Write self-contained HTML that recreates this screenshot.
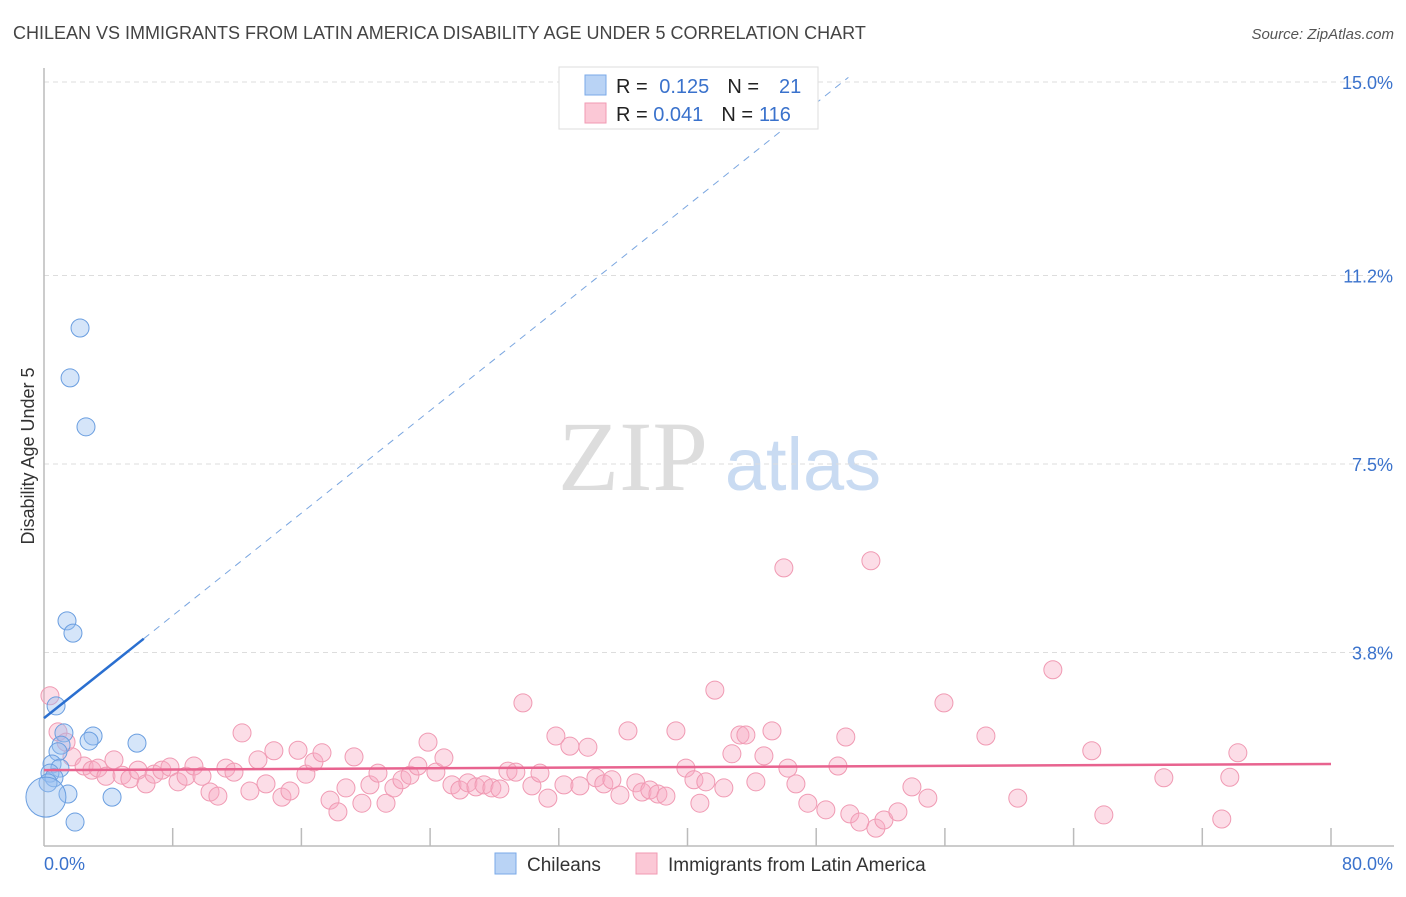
<!DOCTYPE html>
<html><head><meta charset="utf-8"><style>
body{margin:0;background:#fff;width:1406px;height:892px;overflow:hidden;font-family:"Liberation Sans",sans-serif}
</style></head><body>
<svg id="chart" width="1406" height="892" xmlns="http://www.w3.org/2000/svg" font-family="Liberation Sans, sans-serif">
<text x="13" y="39" font-size="18" fill="#444">CHILEAN VS IMMIGRANTS FROM LATIN AMERICA DISABILITY AGE UNDER 5 CORRELATION CHART</text>
<text x="1394" y="39" font-size="15" fill="#555" text-anchor="end" font-style="italic">Source: ZipAtlas.com</text>
<g>
<text x="633" y="490" font-size="100" fill="#ddd" font-family="Liberation Serif, serif" text-anchor="middle">ZIP</text>
<text x="803" y="490" font-size="74" fill="#c9dbf2" text-anchor="middle">atlas</text>
</g>
<g id="grid"></g>
<g id="axes"></g>
<g id="pts"></g>
<g id="lines"></g>
<text transform="translate(34,456) rotate(-90)" font-size="18" fill="#333" text-anchor="middle">Disability Age Under 5</text>
<g>
<rect x="559" y="67" width="259" height="62" fill="#fff" stroke="#ddd"/>
<rect x="585" y="75" width="21" height="20" fill="#b9d3f5" stroke="#7aaae8"/>
<rect x="585" y="103" width="21" height="20" fill="#fbc8d6" stroke="#f09ab3"/>
<text x="616" y="93" font-size="20" fill="#222">R = <tspan fill="#3a72cc" dx="6">0.125</tspan><tspan dx="18" fill="#222">N =</tspan><tspan dx="20" fill="#3a72cc">21</tspan></text>
<text x="616" y="121" font-size="20" fill="#222">R = <tspan fill="#3a72cc">0.041</tspan><tspan dx="18" fill="#222">N =</tspan><tspan dx="6" fill="#3a72cc">116</tspan></text>
</g>
<g>
<rect x="495" y="853" width="21" height="21" fill="#b9d3f5" stroke="#7aaae8"/>
<text x="527" y="871" font-size="19" fill="#333">Chileans</text>
<rect x="636" y="853" width="21" height="21" fill="#fbc8d6" stroke="#f09ab3"/>
<text x="668" y="871" font-size="19" fill="#333">Immigrants from Latin America</text>
</g>
</svg>
<script>
const yTicks=[15.0,11.2,7.5,3.8];
const yTickLabels=["15.0%","11.2%","7.5%","3.8%"];
const xTickLabels=["0.0%","80.0%"];
const blueX=[2.24,1.62,2.61,1.43,1.80,0.75,1.24,3.05,2.80,5.78,1.06,0.87,0.50,0.99,0.37,0.62,0.25,1.49,4.23,0.12,1.93];
const blueY=[10.17,9.19,8.23,4.42,4.18,2.75,2.22,2.16,2.06,2.02,1.98,1.85,1.61,1.53,1.43,1.34,1.24,1.02,0.96,0.96,0.47];
const blueR=[9,9,9,9,9,9,9,9,9,9,9,9,9,9,9,9,9,9,9,20,9];
const pinkX=[0.37,0.87,1.37,1.74,2.49,2.98,3.36,3.85,4.35,4.85,5.34,5.84,6.34,6.84,7.33,7.83,8.33,8.83,9.32,9.82,10.32,10.81,11.31,11.81,12.31,12.80,13.30,13.80,14.29,14.79,15.29,15.79,16.28,16.78,17.28,17.78,18.27,18.77,19.27,19.76,20.26,20.76,21.26,21.75,22.25,22.75,23.24,23.87,24.36,24.86,25.36,25.85,26.35,26.85,27.35,27.84,28.34,28.84,29.33,29.77,30.33,30.83,31.32,31.82,32.32,32.69,33.31,33.81,34.31,34.80,35.30,35.80,36.30,36.79,37.17,37.66,38.16,38.66,39.28,39.90,40.40,40.77,41.14,41.70,42.26,42.76,43.26,43.63,44.25,44.75,45.25,45.99,46.24,46.74,47.48,48.60,49.35,49.84,50.09,50.71,51.40,51.71,52.21,53.08,53.95,54.94,55.94,58.55,60.53,62.71,65.13,65.88,69.61,73.21,73.71,74.21];
const pinkY=[2.95,2.24,2.04,1.75,1.57,1.49,1.53,1.37,1.69,1.39,1.32,1.49,1.22,1.41,1.49,1.55,1.26,1.37,1.57,1.37,1.06,0.98,1.53,1.45,2.22,1.08,1.69,1.22,1.87,0.96,1.08,1.88,1.41,1.65,1.83,0.90,0.67,1.14,1.75,0.84,1.20,1.43,0.84,1.14,1.30,1.39,1.57,2.04,1.45,1.73,1.20,1.10,1.24,1.16,1.20,1.14,1.12,1.47,1.45,2.81,1.18,1.43,0.94,2.16,1.20,1.96,1.18,1.94,1.34,1.22,1.30,1.00,2.26,1.24,1.06,1.10,1.02,0.98,2.26,1.53,1.30,0.84,1.26,3.06,1.14,1.81,2.18,2.18,1.26,1.77,2.26,5.46,1.53,1.22,0.84,0.71,1.57,2.14,0.63,0.47,5.60,0.35,0.51,0.67,1.16,0.94,2.81,2.16,0.94,3.46,1.87,0.61,1.34,0.53,1.35,1.83];
const blueTrend=[2.51,4.07];   // y at x=0 and x=6.2
const pinkTrend=[1.49,1.61];   // y at x=0 and x=80
const X0=44,X1=1331,Y0=846,Y1=82;
const xs=v=>X0+v*(X1-X0)/80, ys=v=>Y0-v*(Y0-Y1)/15;
const NS='http://www.w3.org/2000/svg';
function mk(t,a,p){const e=document.createElementNS(NS,t);for(const k in a)e.setAttribute(k,a[k]);p.appendChild(e);return e;}
const grid=document.getElementById('grid'),axes=document.getElementById('axes'),pts=document.getElementById('pts'),lines=document.getElementById('lines');
yTicks.forEach((t,i)=>{
 const l=mk('line',{x1:X0,x2:1394,y1:ys(t),y2:ys(t),stroke:'#ddd','stroke-dasharray':'5,4'},grid);
 
 
 const tx=mk('text',{x:1393,y:ys(t)+7,'font-size':18,fill:'#3a72cc','text-anchor':'end'},axes);
 tx.textContent=yTickLabels[i];
 
 
});
const ya=mk('line',{x1:X0,x2:X0,y1:68,y2:Y0,stroke:'#bbb','stroke-width':1.5},axes);


const xa=mk('line',{x1:X0,x2:1394,y1:Y0,y2:Y0,stroke:'#bbb','stroke-width':1.5},axes);


for(let k=1;k<=10;k++){const v=k*8;const tk=mk('line',{x1:xs(v),x2:xs(v),y1:828,y2:Y0,stroke:'#bbb','stroke-width':1.5},axes);
 
 }
[[0,'start',44],[80,'end',1393]].forEach((d,i)=>{const t=mk('text',{x:d[2],y:870,'font-size':18,fill:'#3a72cc','text-anchor':d[1]},axes);t.textContent=xTickLabels[i];
 
 });
pinkX.forEach((x,i)=>{const c=mk('circle',{cx:xs(x),cy:ys(pinkY[i]),r:9,fill:'rgba(248,170,195,0.4)',stroke:'#f09ab3','stroke-width':1},pts);
 
 });
blueX.forEach((x,i)=>{const c=mk('circle',{cx:xs(x),cy:ys(blueY[i]),r:blueR[i],fill:'rgba(150,190,240,0.4)',stroke:'#6a9ee0','stroke-width':1},pts);
 
 });
const slope=(blueTrend[1]-blueTrend[0])/6.2;
const bd=mk('line',{x1:xs(6.2),y1:ys(blueTrend[1]),x2:xs(50),y2:ys(blueTrend[0]+slope*50),stroke:'#7aa6e0','stroke-width':1,'stroke-dasharray':'7,6'},lines);


const bl=mk('line',{x1:xs(0),y1:ys(blueTrend[0]),x2:xs(6.2),y2:ys(blueTrend[1]),stroke:'#2a6fd0','stroke-width':2.5},lines);


const pl=mk('line',{x1:xs(0),y1:ys(pinkTrend[0]),x2:xs(80),y2:ys(pinkTrend[1]),stroke:'#e8638f','stroke-width':2.5},lines);


</script>
</body></html>
